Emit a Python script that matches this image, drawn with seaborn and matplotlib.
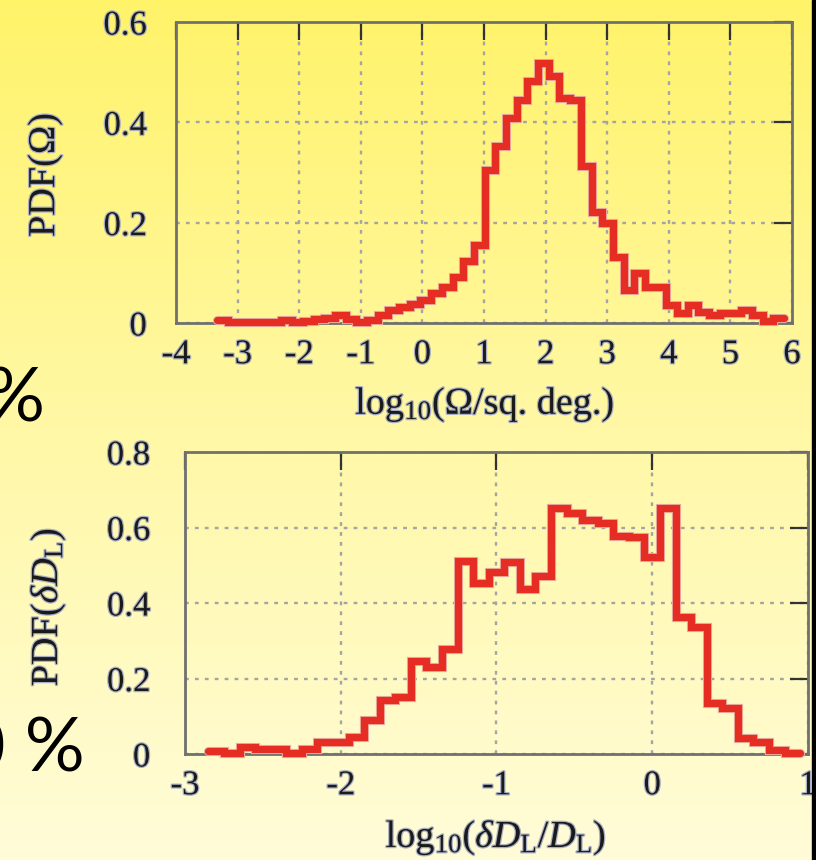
import numpy as np
import pandas as pd
import matplotlib
matplotlib.use("Agg")
import matplotlib.pyplot as plt
import matplotlib.patheffects as pe
from matplotlib.colors import LinearSegmentedColormap
from matplotlib.patches import Rectangle
import seaborn as sns

# ---------------- data ----------------
omega_bin_start = -3.33
omega_bin_width = 0.1736
omega_pdf = [0.005, 0.001, 0.001, 0.001, 0.001, 0.001, 0.006, 0.002, 0.003, 0.007,
             0.010, 0.015, 0.007, 0.002, 0.005, 0.016, 0.025, 0.032, 0.038, 0.046,
             0.059, 0.072, 0.092, 0.124, 0.155, 0.305, 0.352, 0.409, 0.445, 0.482,
             0.519, 0.492, 0.449, 0.445, 0.312, 0.222, 0.199, 0.132, 0.065, 0.099,
             0.072, 0.072, 0.035, 0.019, 0.035, 0.022, 0.015, 0.020, 0.020, 0.025,
             0.015, 0.003, 0.009]
omega_xticks = [-4, -3, -2, -1, 0, 1, 2, 3, 4, 5, 6]
omega_xticklabels = ["-4", "-3", "-2", "-1", "0", "1", "2", "3", "4", "5", "6"]
omega_yticks = [0, 0.2, 0.4, 0.6]
omega_yticklabels = ["0", "0.2", "0.4", "0.6"]

dl_bin_start = -2.85
dl_bin_width = 0.1
dl_pdf = [0.009, 0.002, 0.018, 0.012, 0.012, 0.002, 0.012, 0.033, 0.033, 0.046,
          0.090, 0.143, 0.152, 0.247, 0.231, 0.277, 0.512, 0.452, 0.483, 0.509,
          0.436, 0.472, 0.651, 0.638, 0.620, 0.612, 0.578, 0.575, 0.523, 0.651,
          0.364, 0.337, 0.134, 0.121, 0.042, 0.033, 0.011, 0.002]
dl_xticks = [-3, -2, -1, 0, 1]
dl_xticklabels = ["-3", "-2", "-1", "0", "1"]
dl_yticks = [0, 0.2, 0.4, 0.6, 0.8]
dl_yticklabels = ["0", "0.2", "0.4", "0.6", "0.8"]

side_texts = ["%", "0 %"]

# ---------------- style ----------------
sns.set_style("white")
plt.rcParams["font.family"] = ["Liberation Serif", "DejaVu Serif"]
plt.rcParams["mathtext.fontset"] = "custom"
plt.rcParams["mathtext.rm"] = "Liberation Serif"
plt.rcParams["mathtext.it"] = "Liberation Serif:italic"
plt.rcParams["mathtext.bf"] = "Liberation Serif:bold"

W, H = 816, 860
fig = plt.figure(figsize=(W / 100, H / 100), dpi=100)

# slide background gradient
bg = fig.add_axes([0, 0, 1, 1], zorder=-10)
cmap = LinearSegmentedColormap.from_list("slide", ["#FFF36A", "#FFF8A6", "#FFFCD8"])
grad = np.linspace(0, 1, 256).reshape(-1, 1)
bg.imshow(grad, aspect="auto", cmap=cmap, extent=[0, 1, 0, 1], origin="upper")
bg.set_axis_off()
fig.patches.append(Rectangle((812 / W, 0), 4 / W, 1, transform=fig.transFigure,
                             color="black", zorder=5))

RED = "#E52D24"
TXT = "#1a1a1a"
FRAME = "#707070"
HALO = [pe.withStroke(linewidth=1.8, foreground="#a9b0c4")]


def make_hist(ax, start, width, pdf):
    pdf = np.asarray(pdf, dtype=float)
    edges = start + width * np.arange(len(pdf) + 1)
    centers = 0.5 * (edges[:-1] + edges[1:])
    df = pd.DataFrame({"x": centers, "w": pdf})
    sns.histplot(data=df, x="x", weights="w", bins=[float(e) for e in edges],
                 element="step", fill=False, color=RED, linewidth=5.2, ax=ax, zorder=4)
    for ln in ax.lines:
        ln.set_path_effects([pe.Stroke(linewidth=6.6, foreground="#E9B3A6"), pe.Normal()])
        ln.set_solid_joinstyle("miter")
        ln.set_clip_on(False)


def style_axes(ax, xlim, ylim, xt, xtl, yt, ytl, xpad, ypad):
    ax.set_facecolor("none")
    ax.set_xlim(*xlim)
    ax.set_ylim(*ylim)
    ax.set_xticks(xt)
    ax.set_xticklabels(xtl)
    ax.set_yticks(yt)
    ax.set_yticklabels(ytl)
    ax.tick_params(axis="both", direction="in", length=13, width=1.6, color="#333333",
                   top=True, right=True, labelsize=25, labelcolor=TXT)
    ax.tick_params(axis="x", pad=xpad)
    ax.tick_params(axis="y", pad=ypad)
    for lab in ax.get_xticklabels() + ax.get_yticklabels():
        lab.set_path_effects(HALO)
    for s in ax.spines.values():
        s.set_visible(True)
        s.set_color(FRAME)
        s.set_linewidth(2.0)
    ax.grid(True, color="#a4a4a4", linestyle=(0, (1.6, 2.6)), linewidth=1.7, zorder=1)
    ax.set_axisbelow(True)


# ---------------- top panel ----------------
ax1 = fig.add_axes([176 / W, 1 - 323 / H, 616 / W, 301 / H])
make_hist(ax1, omega_bin_start, omega_bin_width, omega_pdf)
style_axes(ax1, (-4, 6), (0, 0.6), omega_xticks, omega_xticklabels,
           omega_yticks, omega_yticklabels, xpad=11, ypad=21)
ax1.set_xlabel("log$_{10}$(Ω/sq. deg.)", fontsize=27.5, color=TXT)
ax1.set_ylabel("PDF(Ω)", fontsize=27.5, color=TXT)
ax1.xaxis.set_label_coords((485 - 176) / 616, (323 - 405) / 301)
ax1.xaxis.label.set_verticalalignment("center")
ax1.yaxis.set_label_coords((45 - 176) / 616, (323 - 175) / 301)
ax1.yaxis.label.set_verticalalignment("center")

# ---------------- bottom panel ----------------
ax2 = fig.add_axes([185 / W, 1 - 754 / H, 623 / W, 302 / H])
make_hist(ax2, dl_bin_start, dl_bin_width, dl_pdf)
style_axes(ax2, (-3, 1), (0, 0.8), dl_xticks, dl_xticklabels,
           dl_yticks, dl_yticklabels, xpad=11, ypad=25)
ax2.set_xlabel(r"log$_{10}$($\delta D_{\mathrm{L}}/D_{\mathrm{L}}$)", fontsize=27.5, color=TXT)
ax2.set_ylabel(r"PDF($\delta D_{\mathrm{L}}$)", fontsize=27.5, color=TXT)
ax2.xaxis.set_label_coords((496 - 185) / 623, (754 - 838) / 302)
ax2.xaxis.label.set_verticalalignment("center")
ax2.yaxis.set_label_coords((48 - 185) / 623, (754 - 607) / 302)
ax2.yaxis.label.set_verticalalignment("center")
for lab in (ax1.xaxis.label, ax1.yaxis.label, ax2.xaxis.label, ax2.yaxis.label):
    lab.set_path_effects(HALO)

# ---------------- cropped slide text ----------------
fig.text(45 / W, 1 - 400 / H, side_texts[0], ha="right", va="center",
         fontsize=54, family=["Lato", "DejaVu Sans"], color="black")
fig.text(85 / W, 1 - 750 / H, side_texts[1], ha="right", va="center",
         fontsize=54, family=["Lato", "DejaVu Sans"], color="black")

fig.savefig("out.png", dpi=100)
